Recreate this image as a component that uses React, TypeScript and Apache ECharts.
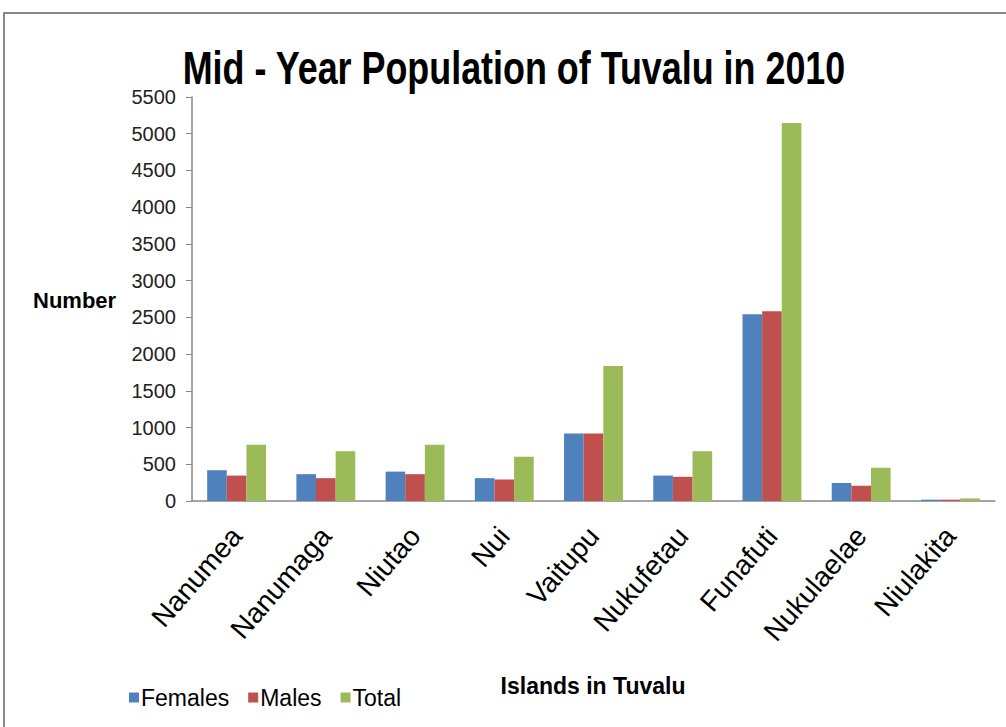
import React, { useEffect, useRef } from "react";
import * as echarts from "echarts";

const islands = ["Nanumea", "Nanumaga", "Niutao", "Nui", "Vaitupu", "Nukufetau", "Funafuti", "Nukulaelae", "Niulakita"];
const females = [419, 365, 400, 311, 919, 346, 2543, 245, 18];
const males = [346, 311, 365, 292, 919, 329, 2584, 208, 18];
const total = [765, 676, 765, 603, 1838, 676, 5145, 453, 35];
const seriesNames = ["Females", "Males", "Total"];
const colors = ["#4F81BD", "#C0504D", "#9BBB59"];

export default function App() {
  const ref = useRef<HTMLDivElement>(null);
  useEffect(() => {
    const chart = echarts.init(ref.current!, undefined, { renderer: "svg" });
    const data = [females, males, total];
    chart.setOption({
      animation: false,
      backgroundColor: "#ffffff",
      legend: {
        data: seriesNames,
        left: 124,
        top: 681,
        icon: "rect",
        itemWidth: 10,
        itemHeight: 10,
        itemGap: 19,
        textStyle: { fontFamily: "'Liberation Sans', Arial, sans-serif", fontSize: 23, color: "#000", padding: [0, 0, 0, -3] },
      },
      grid: { left: 192, right: 11, top: 97, bottom: 226, containLabel: false },
      xAxis: {
        type: "category",
        data: islands,
        axisLine: { lineStyle: { color: "#888", width: 1.5 } },
        axisTick: { length: 9, lineStyle: { color: "#888" } },
        axisLabel: {
          rotate: 49,
          interval: 0,
          margin: 30,
          fontFamily: "'Liberation Sans', Arial, sans-serif",
          fontSize: 28,
          color: "#000",
        },
      },
      yAxis: {
        type: "value",
        min: 0,
        max: 5500,
        interval: 500,
        splitLine: { show: false },
        axisLine: { show: true, lineStyle: { color: "#888", width: 1.5 } },
        axisTick: { show: true, length: 6, lineStyle: { color: "#888" } },
        axisLabel: {
          margin: 16,
          formatter: (v: number) => String(v),
          fontFamily: "'Liberation Sans', Arial, sans-serif",
          fontSize: 20,
          color: "#222",
        },
      },
      graphic: [
        {
          type: "rect",
          shape: { x: 4, y: 13, width: 1010, height: 730 },
          style: { fill: "none", stroke: "#888", lineWidth: 2 },
          z: 10,
        },
        {
          type: "text",
          x: 514,
          y: 68,
          scaleX: 0.78,
          style: {
            text: "Mid - Year Population of Tuvalu in 2010",
            fontFamily: "'Liberation Sans', Arial, sans-serif",
            fontWeight: "bold",
            fontSize: 46,
            fill: "#000",
            align: "center",
            verticalAlign: "middle",
          },
        },
        {
          type: "text",
          x: 33,
          y: 300,
          style: {
            text: "Number",
            fontFamily: "'Liberation Sans', Arial, sans-serif",
            fontWeight: "bold",
            fontSize: 22,
            fill: "#000",
            verticalAlign: "middle",
          },
        },
        {
          type: "text",
          x: 593,
          y: 686,
          style: {
            text: "Islands in Tuvalu",
            fontFamily: "'Liberation Sans', Arial, sans-serif",
            fontWeight: "bold",
            fontSize: 23,
            fill: "#000",
            align: "center",
            verticalAlign: "middle",
          },
        },
      ],
      series: seriesNames.map((name, i) => ({
        name,
        type: "bar",
        data: data[i],
        barGap: "0%",
        barCategoryGap: "34%",
        itemStyle: { color: colors[i] },
      })),
    });
    return () => chart.dispose();
  }, []);
  return <div ref={ref} style={{ position: "absolute", left: 0, top: 0, width: 1006, height: 727 }} />;
}
